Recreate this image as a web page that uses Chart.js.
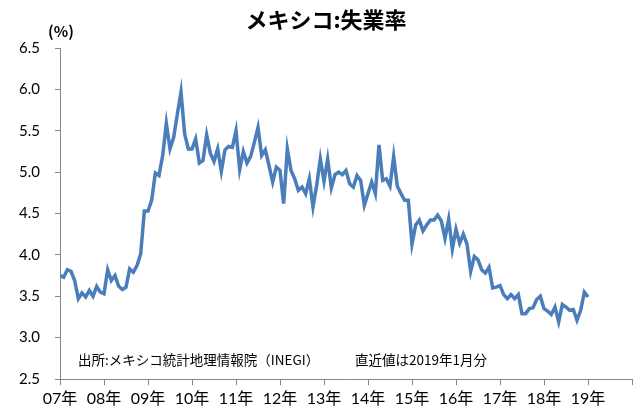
<!DOCTYPE html>
<html>
<head>
<meta charset="utf-8">
<script src="https://cdn.jsdelivr.net/npm/chart.js@4/dist/chart.umd.min.js"></script>
<style>
    html, body { margin: 0; padding: 0; background: #fff; }
    #wrap { width: 640px; height: 413px; }
</style>
</head>
<body>
<div id="wrap"><canvas id="myChart" width="640" height="413"></canvas></div>
<script>
// monthly rate, Jan 2007 .. Jan 2019 (%)
const rates = [
    3.75, 3.73, 3.82, 3.80, 3.69, 3.47, 3.54, 3.49, 3.57, 3.50, 3.62, 3.55,
    3.53, 3.82, 3.69, 3.75, 3.62, 3.58, 3.61, 3.83, 3.79, 3.87, 4.01, 4.53,
    4.53, 4.66, 4.99, 4.96, 5.20, 5.59, 5.28, 5.42, 5.70, 5.97, 5.46, 5.28,
    5.28, 5.40, 5.11, 5.14, 5.45, 5.23, 5.13, 5.28, 5.01, 5.27, 5.31, 5.30,
    5.50, 5.03, 5.25, 5.11, 5.19, 5.36, 5.54, 5.20, 5.27, 5.08, 4.88, 5.06,
    5.02, 4.62, 5.28, 5.02, 4.92, 4.78, 4.82, 4.74, 4.92, 4.58, 4.84, 5.16,
    4.89, 5.16, 4.81, 4.97, 5.00, 4.97, 5.02, 4.86, 4.82, 4.96, 4.90, 4.60,
    4.74, 4.88, 4.74, 5.33, 4.90, 4.92, 4.83, 5.19, 4.83, 4.74, 4.66, 4.66,
    4.13, 4.36, 4.42, 4.29, 4.36, 4.42, 4.42, 4.48, 4.41, 4.20, 4.43, 4.07,
    4.31, 4.14, 4.25, 4.13, 3.80, 3.98, 3.94, 3.82, 3.78, 3.85, 3.60, 3.61,
    3.63, 3.52, 3.47, 3.52, 3.47, 3.52, 3.29, 3.29, 3.35, 3.36, 3.46, 3.50,
    3.35, 3.32, 3.28, 3.37, 3.19, 3.40, 3.37, 3.33, 3.34, 3.21, 3.33, 3.55,
    3.49
];
const yearLabels = ['07年', '08年', '09年', '10年', '11年', '12年', '13年',
    '14年', '15年', '16年', '17年', '18年', '19年'];
const chartTitle = 'メキシコ:失業率';
const unitLabel = '(%)';
const sourceNote = '出所:メキシコ統計地理情報院（INEGI）';
const latestNote = '直近値は2019年1月分';

const axisGray = '#868686';
const jpFont = "'Noto Sans CJK JP', sans-serif";
const numFont = "Lato, 'Noto Sans CJK JP', sans-serif";

// texts that sit outside the axes
const textPlugin = {
    id: 'texts',
    afterDraw(chart) {
        const c = chart.ctx;
        c.save();
        c.fillStyle = '#000';
        c.textBaseline = 'middle';
        c.textAlign = 'center';
        c.font = "bold 22px " + jpFont;
        c.fillText(chartTitle, 326, 20);
        c.font = "bold 15px " + jpFont;
        c.fillText(unitLabel, 61, 31);
        c.textAlign = 'left';
        c.font = "13.5px " + jpFont;
        c.fillText(sourceNote, 78, 360);
        c.fillText(latestNote, 355, 360);
        c.restore();
    }
};

const ctx = document.getElementById('myChart').getContext('2d');
const myChart = new Chart(ctx, {
    type: 'line',
    data: {
        datasets: [{
            label: '失業率',
            data: rates.map((v, i) => ({ x: i, y: v })),
            borderColor: '#4A7EBB',
            backgroundColor: '#4A7EBB',
            borderWidth: 3.5,
            pointRadius: 0,
            tension: 0
        }]
    },
    options: {
        responsive: false,
        animation: false,
        layout: { padding: { top: 48, right: 8, left: 0, bottom: 0 } },
        plugins: {
            legend: { display: false },
            tooltip: { enabled: false }
        },
        scales: {
            x: {
                type: 'linear',
                min: 0,
                max: yearLabels.length * 12,
                afterFit: s => { s.height = 34; },
                border: { color: axisGray, width: 1 },
                grid: { drawOnChartArea: false, color: axisGray, tickLength: 6 },
                ticks: {
                    stepSize: 12,
                    autoSkip: false,
                    maxRotation: 0,
                    padding: 4,
                    color: '#000',
                    font: { family: numFont, size: 16 },
                    callback: v => yearLabels[v / 12] || ''
                }
            },
            y: {
                min: 2.5,
                max: 6.5,
                afterFit: s => { s.width = 60; },
                border: { color: axisGray, width: 1 },
                grid: { drawOnChartArea: false, color: axisGray, tickLength: 5 },
                ticks: {
                    stepSize: 0.5,
                    padding: 15,
                    color: '#000',
                    font: { family: numFont, size: 15 },
                    callback: v => v.toFixed(1)
                }
            }
        }
    },
    plugins: [textPlugin]
});
</script>
</body>
</html>
